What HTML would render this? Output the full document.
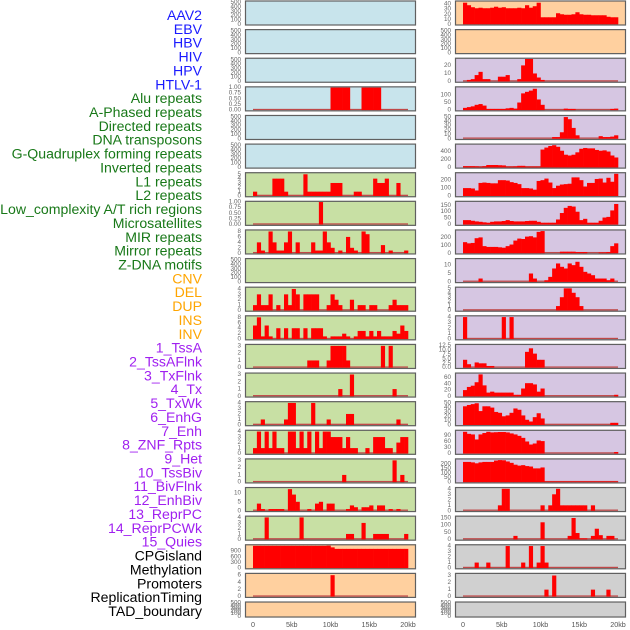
<!DOCTYPE html>
<html><head><meta charset="utf-8"><style>
html,body{margin:0;padding:0;background:#fff;}
svg{display:block;font-family:"Liberation Sans",sans-serif;}
</style></head><body>
<svg id="chart" width="630" height="630" viewBox="0 0 630 630" xmlns="http://www.w3.org/2000/svg"></svg>
<script>
const legendLabels = ["AAV2","EBV","HBV","HIV","HPV","HTLV-1","Alu repeats","A-Phased repeats","Directed repeats","DNA transposons","G-Quadruplex forming repeats","Inverted repeats","L1 repeats","L2 repeats","Low_complexity A/T rich regions","Microsatellites","MIR repeats","Mirror repeats","Z-DNA motifs","CNV","DEL","DUP","INS","INV","1_TssA","2_TssAFlnk","3_TxFlnk","4_Tx","5_TxWk","6_EnhG","7_Enh","8_ZNF_Rpts","9_Het","10_TssBiv","11_BivFlnk","12_EnhBiv","13_ReprPC","14_ReprPCWk","15_Quies","CPGisland","Methylation","Promoters","ReplicationTiming","TAD_boundary"];
const legendGroups = ["virus","virus","virus","virus","virus","virus","repeat","repeat","repeat","repeat","repeat","repeat","repeat","repeat","repeat","repeat","repeat","repeat","repeat","sv","sv","sv","sv","sv","chrom","chrom","chrom","chrom","chrom","chrom","chrom","chrom","chrom","chrom","chrom","chrom","chrom","chrom","chrom","other","other","other","other","other"];
const xTickValues = [0,5000,10000,15000,20000];
const xTickLabels = ["0","5kb","10kb","15kb","20kb"];
const binSize = 500;
const Z = [];
const L3 = [0,0,0,0,0,0,0,0,0,0,0,0,0,0,0,0,0,0,0,0,1,1,1,1,1,0,0,0,1,1,1,1,1,0,0,0,0,0,0,0];
const L6 = [1,0,0,0,0,4,4,4,1,0,0,0,0,5,1,1,1,1,1,1,3,3,3,0,0,0,1,1,0,0,0,4,3,3,4,0,0,3,0,0];
const L7 = [0,0,0,0,0,0,0,0,0,0,0,0,0,0,0,0,0,1,0,0,0,0,0,0,0,0,0,0,0,0,0,0,0,0,0,0,0,0,0,0];
const L8 = [0,4,1,0,8,4,1,1,4,8,0,4,0,0,0,4,1,1,8,4,2,0,1,0,6,2,1,0,8,7,0,0,0,3,0,1,0,0,0,1];
const L10 = [1,3,1,1,3,0,1,0,3,1,4,3,0,3,3,3,3,0,0,1,3,2,1,0,0,2,0,1,1,0,1,1,0,0,0,1,2,1,1,1];
const L11 = [5,8,1,5,1,0,4,0,4,0,4,4,0,4,0,4,4,4,1,0,1,1,1,2,1,0,1,3,3,1,3,1,3,1,1,1,3,2,5,3];
const L12 = [0,0,0,0,0,0,0,0,0,0,0,0,0,0,1,1,1,0,0,1,3,3,3,3,1,0,0,0,0,0,0,0,0,3,0,3,0,0,0,0];
const L13 = [0,0,0,0,0,0,0,0,0,0,0,0,0,0,0,0,0,0,0,0,0,0,1,0,0,3,0,0,0,0,0,0,0,0,0,0,1,0,0,0];
const L14 = [0,0,1,0,0,0,0,0,1,4,4,0,0,0,0,4,0,0,0,1,0,0,0,0,2,2,0,0,0,0,0,0,0,0,0,0,0,1,0,0];
const L15 = [1,4,1,4,1,4,1,1,0,4,4,1,4,1,4,0,4,1,4,4,3,3,3,1,3,1,1,0,0,1,0,3,3,3,1,1,0,2,3,3];
const L16 = [0,0,0,0,0,0,0,0,0,0,0,0,0,0,0,0,0,0,0,0,0,0,0,1,0,0,0,0,0,0,0,0,0,0,0,0,3,0,1,0];
const L17 = [0,4,1,0,1,1,1,1,0,12,9,5,0,0,1,0,4,5,0,4,4,0,0,0,1,3,2,0,2,2,3,0,3,3,0,1,0,1,0,0];
const L18 = [0,0,0,4,0,0,0,0,0,0,0,0,4,0,0,0,0,0,0,0,0,0,0,0,1,1,0,0,3,0,0,1,1,1,1,0,0,0,0,1];
const L19 = [1180,1180,1180,1180,1180,1180,1180,1180,1180,1180,1180,1180,1180,1180,1180,1180,1180,1180,1180,1190,1100,1020,1020,1020,1020,1020,1020,1020,1020,1020,1020,1020,1020,1020,1020,1020,1020,1020,1020,1020];
const L20 = [0,0,0,0,0,0,0,0,0,0,0,0,0,0,0,0,0,0,0,0,6,0,0,0,0,0,0,0,0,0,0,0,0,0,0,0,0,0,0,0];
const R0 = [43,38,34,32,33,32,32,33,35,33,34,32,32,32,33,32,38,33,36,43,14,14,14,14,22,20,19,19,20,24,20,19,19,18,18,18,18,15,14,14];
const R2 = [0,2,3,8,12,3,3,0,0,6,6,8,0,0,3,20,28,28,10,5,2,0,0,0,0,0,0,0,0,0,0,0,0,0,0,0,0,0,0,0];
const R3 = [15,20,25,35,40,30,8,8,8,8,8,12,15,10,50,110,120,128,140,70,35,0,0,0,0,0,10,8,8,0,0,0,0,0,0,0,0,0,8,10];
const R4 = [0,0,0,0,0,0,0,0,0,0,0,0,0,0,0,0,0,0,0,0,0,0,0,4,4,15,50,45,25,8,0,0,0,0,0,6,4,4,5,8];
const R5 = [30,30,30,25,15,30,60,60,60,55,50,20,20,25,40,40,20,20,20,20,450,500,540,560,520,420,320,300,320,380,470,490,480,480,440,420,430,400,300,250];
const R6 = [100,100,95,70,165,170,165,160,160,200,200,195,175,165,150,100,100,95,80,190,200,220,170,100,130,145,150,155,235,235,200,120,165,165,215,220,170,230,180,280];
const R7 = [35,35,30,25,22,18,15,22,25,25,28,35,28,25,25,25,28,30,30,22,15,15,15,15,40,90,130,145,140,100,35,45,15,15,15,30,55,60,110,160];
const R8 = [140,125,130,190,200,90,80,80,80,75,70,90,110,160,185,180,210,215,200,270,280,0,0,0,0,20,20,20,20,15,15,15,0,0,0,10,10,15,90,125];
const R9 = [0,0,0,0,2,0,0,0,0,0,0,0,0,0,0,0,0,5,2,0,0,1,3,8,11,9,8,11,10,12,9,6,5,4,2,2,2,1,2,0];
const R10 = [0,0,0,0,0,0,0,0,0,0,0,0,0,0,0,0,0,0,0,0,0,0,0,0,1,3,5,5,4,3,1,0,0,0,0,0,0,0,0,0];
const R11 = [4,0,0,0,0,0,0,0,0,0,4,0,4,0,0,0,0,0,0,0,0,0,0,0,0,0,0,0,0,0,0,0,0,0,0,0,0,0,0,0];
const R12 = [4.5,2,0,3,2.5,2.5,1,1,0,0,0,0,0,0,0,0,9,11,8,4.5,4.5,0,0,0,0,0,0,0,0,0,0,0,0,0,0,0,0,0,0,0];
const R13 = [20,30,34,45,70,35,12,15,12,12,12,12,12,5,5,25,42,42,38,15,25,0,0,0,0,0,0,0,0,0,0,0,0,0,0,0,0,0,0,5];
const R14 = [43,46,48,50,32,43,43,40,30,28,20,22,28,38,35,22,12,8,18,27,15,0,0,0,0,0,0,0,0,0,0,0,0,0,0,0,0,0,5,5];
const R15 = [108,98,95,70,95,102,108,105,106,107,107,105,100,95,88,78,60,45,50,65,62,0,0,0,0,0,0,0,0,0,0,0,0,0,0,0,0,0,0,8];
const R16 = [220,220,215,205,215,220,220,220,235,240,238,225,210,190,180,185,175,170,150,150,160,8,8,8,8,8,8,8,8,8,8,8,8,8,8,8,8,8,8,8];
const R17 = [0,0,0,0,0,0,0,0,0,1,4,4,0,0,0,0,0,0,0,0,1,0,1,3,4,1,1,1,1,1,1,1,0,1,0,0,0,0,0,0];
const R18 = [0,0,0,0,0,0,0,0,0,0,0,0,0,25,0,0,0,0,0,0,120,0,0,0,0,0,0,25,150,45,8,8,0,25,75,30,0,25,25,0];
const R19 = [0,0,0,1,0,0,1,0,0,0,0,4,0,0,0,1,0,4,0,1,4,1,0,0,0,0,0,0,0,0,0,0,0,0,0,0,0,0,0,0];
const R20 = [0,0,0,0,0,0,0,0,0,0,0,0,0,0,0,0,0,0,0,0,0,1,0,3,0,0,0,0,0,0,0,0,0,1,0,0,0,1,0,0];
const T500 = [0,100,200,300,400,500];
const T1 = [0,0.25,0.5,0.75,1];
const leftTracks = [
 [Z,520,T500,"blue",0],[Z,520,T500,"blue",0],[Z,520,T500,"blue",0],[L3,1,T1,"blue",2],[Z,520,T500,"blue",0],[Z,520,T500,"blue",0],
 [L6,5.2,[0,1,2,3,4,5],"green",0],[L7,1,T1,"green",2],[L8,8.3,[0,2,4,6,8],"green",0],[Z,520,T500,"green",0],
 [L10,4.2,[0,1,2,3,4],"green",0],[L11,8.3,[0,2,4,6,8],"green",0],[L12,3.1,[0,1,2,3],"green",0],[L13,3.1,[0,1,2,3],"green",0],
 [L14,4.1,[0,1,2,3,4],"green",0],[L15,4.1,[0,1,2,3,4],"green",0],[L16,3.1,[0,1,2,3],"green",0],[L17,12.5,[0,5,10],"green",0],
 [L18,4.1,[0,1,2,3,4],"green",0],[L19,1200,[0,300,600,900],"orange",0],[L20,6.3,[0,2,4,6],"orange",0],[Z,520,T500,"orange",0]
];
const rightTracks = [
 [R0,45,[0,10,20,30,40],"orange",0],[Z,520,T500,"orange",0],[R2,28,[0,10,20],"purple",0],[R3,148,[0,50,100],"purple",0],
 [R4,52,[0,10,20,30,40,50],"purple",0],[R5,570,[0,200,400],"purple",0],[R6,285,[0,100,200],"purple",0],[R7,175,[0,50,100,150],"purple",0],
 [R8,285,[0,100,200],"purple",0],[R9,13.5,[0,5,10],"purple",0],[R10,5.1,[0,1,2,3,4,5],"purple",0],[R11,4.1,[0,1,2,3,4],"purple",0],
 [R12,12.8,[0,2.5,5,7.5,10,12.5],"purple",1],[R13,72,[0,20,40,60],"purple",0],[R14,52,[0,10,20,30,40,50],"purple",0],[R15,112,[0,30,60,90],"purple",0],
 [R16,245,[0,50,100,150,200],"purple",0],[R17,4.1,[0,1,2,3,4],"grey",0],[R18,158,[0,50,100,150],"grey",0],[R19,4.1,[0,1,2,3,4],"grey",0],
 [R20,3.2,[0,1,2,3],"grey",0],[Z,520,T500,"grey",0]
];
const bgColors = {blue:"#c8e4ec",green:"#c8e0a4",orange:"#ffd09f",purple:"#d6c6e2",grey:"#d0d0d0"};
const legendColors = {virus:"#1a1aff",repeat:"#187818",sv:"#ffa500",chrom:"#a020f0",other:"#000000"};
const NS = "http://www.w3.org/2000/svg";
const svg = document.getElementById("chart");
function mk(tag, attrs, parent){const e=document.createElementNS(NS,tag);for(const k in attrs)e.setAttribute(k,attrs[k]);(parent||svg).appendChild(e);return e;}

legendLabels.forEach((lab,k)=>{
  const t = mk("text",{x:202,y:15+k*13.86,"text-anchor":"end","dominant-baseline":"central","font-size":"14.1",fill:legendColors[legendGroups[k]]});
  
  
  t.textContent = lab;
});

function drawColumn(tracks, px, zeroX, colName){
  const pw = 171, kbScale = 155/20000;
  const xs = v => zeroX + v*kbScale;
  tracks.forEach((tr,i)=>{
    const [vals,ymax,ticks,bg,dec] = tr;
    const top = i*28.62 + 0.5;
    const h = (i===21) ? 16 : 25;
    const g = mk("g",{});
    
    
    mk("rect",{x:px,y:top,width:pw,height:h,fill:bgColors[bg]},g);
    const bottom = top + h - 1.2;
    const ys = v => bottom - v/ymax*(h-2.4);
    if(vals.length){
      const base = mk("rect",{x:xs(0),y:bottom-1.3,width:xs(20000)-xs(0),height:1.3,fill:"#c04848"},g);
      
      
      vals.forEach((v,b)=>{
        if(v<=0) return;
        const x0 = xs(b*binSize), x1 = xs((b+1)*binSize);
        const r = mk("rect",{x:x0,y:ys(v),width:x1-x0+0.3,height:bottom-ys(v),fill:"#ff0000"},g);
        
        
      });
    }
    mk("rect",{x:px+0.5,y:top+0.5,width:pw-1,height:h-1,fill:"none",stroke:"#606060","stroke-width":1.2},g);
    ticks.forEach(tv=>{
      const t = mk("text",{x:px-4,y:ys(tv),"text-anchor":"end","dominant-baseline":"central","font-size":"6.3",fill:"#666"},g);
      
      
      t.textContent = dec ? tv.toFixed(dec) : String(tv);
    });
  });
  xTickValues.forEach((v,k)=>{
    const t = mk("text",{x:xs(v),y:627,"text-anchor":"middle","font-size":"7.2",fill:"#555"});
    
    
    t.textContent = xTickLabels[k];
  });
}
drawColumn(leftTracks, 245, 253, "left");
drawColumn(rightTracks, 455, 463, "right");
</script>
</body></html>
